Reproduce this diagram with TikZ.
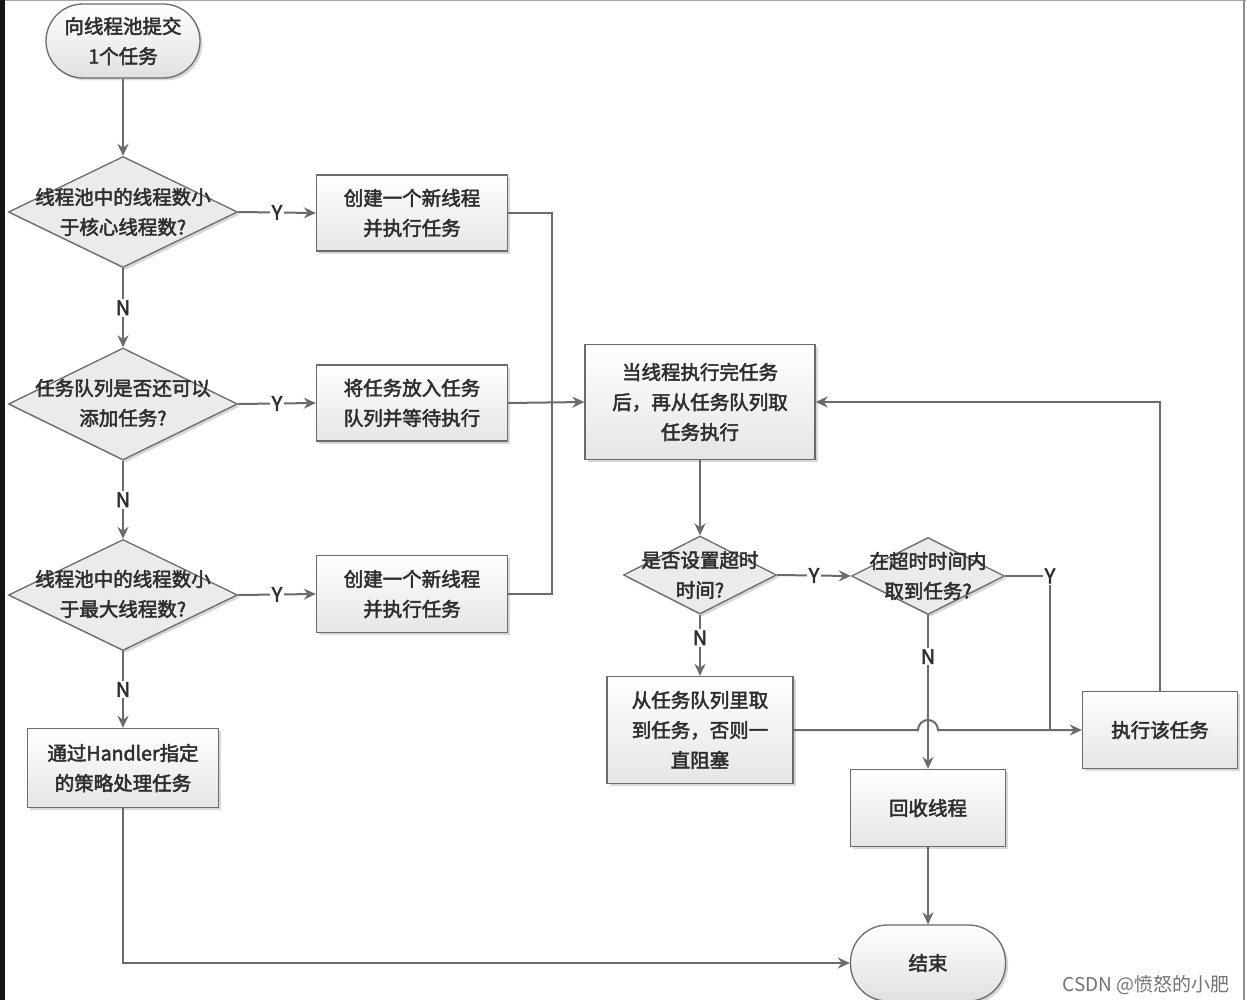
\documentclass[tikz,border=0pt]{standalone}
\usepackage{fontspec}
\setmainfont{Noto Sans CJK SC}[FakeBold=2.5]
\newfontfamily\wmfont{Noto Sans CJK SC}
\usetikzlibrary{shapes.geometric,arrows.meta,shadows}
\definecolor{ln}{HTML}{6B6B6B}
\definecolor{tx}{HTML}{2E2E2E}
\tikzset{
  base/.style={draw=ln, line width=1.3pt, text=tx, align=center,
    font=\fontsize{19.5}{30}\selectfont,
    drop shadow={shadow xshift=2.5pt, shadow yshift=-2.5pt, opacity=0.25, fill=black!60}},
  proc/.style={base, rectangle, top color=white, bottom color=black!10, inner sep=0pt},
  dec/.style={base, diamond, fill=black!8, inner sep=0pt},
  term/.style={base, rectangle, rounded corners=37pt, top color=white, bottom color=black!12, inner sep=0pt},
  dtext/.style={text=tx, align=center, font=\fontsize{19.5}{30}\selectfont, inner sep=0pt},
  line/.style={draw=ln, line width=2pt},
  arr/.style={line, -{Stealth[length=12pt,width=11pt]}},
  lbl/.style={fill=white, inner sep=1.5pt, text=tx, font=\fontsize{20}{22}\selectfont},
}
\begin{document}
\begin{tikzpicture}[x=1pt,y=-1pt]
\useasboundingbox (0,0) rectangle (1246,1000);
\fill[white] (0,0) rectangle (1246,1000);
% frame edges
\fill[black!92] (0,0) rectangle (4.5,1000);
\fill[black!35] (4.5,0) rectangle (1246,1.5);
\fill[black!45] (1242.5,0) rectangle (1245,1000);

% nodes
\node[term, minimum width=154pt, minimum height=74pt] (start) at (123,41) {向线程池提交\\1个任务};
\node[dec, minimum width=229pt, minimum height=111pt] (d1) at (123,212) {};
\node[dtext] (d1t) at (123,212) {线程池中的线程数小\\于核心线程数?};
\node[proc, minimum width=191pt, minimum height=76pt] (b1) at (412,213) {创建一个新线程\\并执行任务};
\node[dec, minimum width=229pt, minimum height=112pt] (d2) at (123,404) {};
\node[dtext] (d2t) at (123,403) {任务队列是否还可以\\添加任务?};
\node[proc, minimum width=191pt, minimum height=76pt] (b2) at (412,403) {将任务放入任务\\队列并等待执行};
\node[dec, minimum width=229pt, minimum height=111pt] (d3) at (123,595) {};
\node[dtext] (d3t) at (123,594) {线程池中的线程数小\\于最大线程数?};
\node[proc, minimum width=191pt, minimum height=77pt] (b3) at (412,594) {创建一个新线程\\并执行任务};
\node[proc, minimum width=191pt, minimum height=79pt] (b4) at (123,768) {通过Handler指定\\的策略处理任务};
\node[proc, minimum width=230pt, minimum height=115pt] (b5) at (700,402) {当线程执行完任务\\后，再从任务队列取\\任务执行};
\node[dec, minimum width=153pt, minimum height=78pt] (d4) at (700,575) {};
\node[dtext] (d4t) at (700,575) {是否设置超时\\时间?};
\node[dec, minimum width=153pt, minimum height=77pt] (d5) at (928,576) {};
\node[dtext] (d5t) at (928,576) {在超时时间内\\取到任务?};
\node[proc, minimum width=186pt, minimum height=107pt] (b6) at (700,730) {从任务队列里取\\到任务，否则一\\直阻塞};
\node[proc, minimum width=155pt, minimum height=77pt] (b7) at (928,808) {回收线程};
\node[proc, minimum width=155pt, minimum height=77pt] (b8) at (1160,730) {执行该任务};
\node[term, minimum width=155pt, minimum height=76pt] (end) at (928,963) {结束};
\coordinate (bus) at (552,403);
\coordinate (jl) at (918,730);
\coordinate (j) at (1050,730);

% connectors
\draw[arr] (start) -- (d1);
\draw[arr] (d1.east) -- node[lbl]{Y} (b1.west);
\draw[arr] (d1.south) -- node[lbl]{N} (d2.north);
\draw[arr] (d2.east) -- node[lbl]{Y} (b2.west);
\draw[arr] (d2.south) -- node[lbl]{N} (d3.north);
\draw[arr] (d3.east) -- node[lbl]{Y} (b3.west);
\draw[arr] (d3.south) -- node[lbl]{N} (b4.north);
\draw[line] (b1.east) -| (bus) |- (b3.east);
\draw[arr] (b2.east) -- (b5.west);
\draw[arr] (b4.south) |- (end.west);
\draw[arr] (b5.south) -- (d4.north);
\draw[arr] (d4.east) -- node[lbl]{Y} (d5.west);
\draw[arr] (d4.south) -- node[lbl, pos=0.38]{N} (b6.north);
\draw[arr] (d5.south) -- node[lbl, pos=0.27]{N} (b7.north);
\draw[line] (d5.east) -| node[lbl, pos=0.5]{Y} (j);
\draw[arr] (b6.east) -- (jl) arc[start angle=180, end angle=0, radius=10pt] -- (b8.west);
\draw[arr] (b7.south) -- (end.north);
\draw[arr] (b8.north) |- (b5.east);

% watermark
\node[text=black!55, font=\wmfont\fontsize{19}{22}\selectfont, inner sep=0pt] (wm) at (1146,985) {CSDN @愤怒的小肥};
\end{tikzpicture}
\end{document}
